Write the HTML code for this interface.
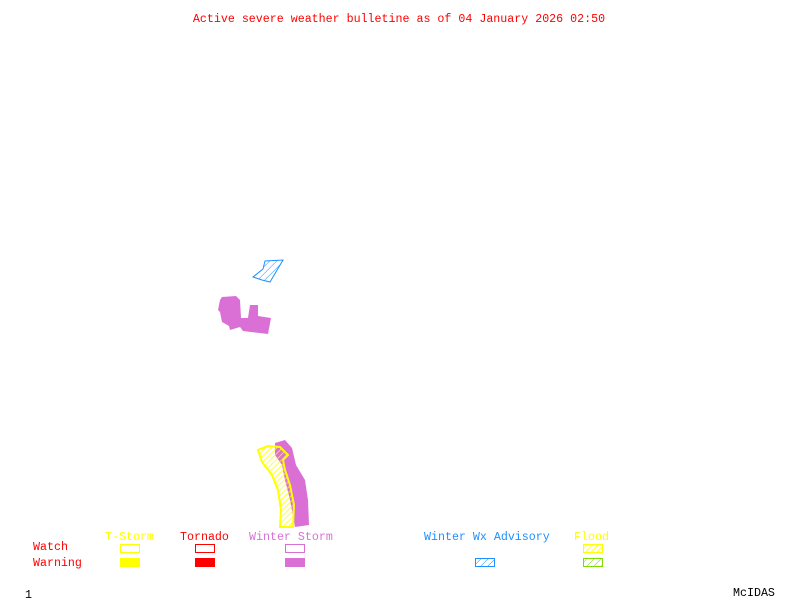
<!DOCTYPE html>
<html><head><style>
html,body{margin:0;padding:0;background:#fff;}
svg text{font-family:"Liberation Mono",monospace;font-size:11.65px;}
</style></head><body>
<svg width="800" height="600" xmlns="http://www.w3.org/2000/svg">
<defs>
<pattern id="hb" width="5" height="5" patternUnits="userSpaceOnUse" patternTransform="rotate(45)"><line x1="0" y1="0" x2="0" y2="5" stroke="#1e90ff" stroke-width="1"/></pattern>
<pattern id="hy" width="4" height="4" patternUnits="userSpaceOnUse" patternTransform="rotate(45)"><line x1="0" y1="0" x2="0" y2="4" stroke="#ffff00" stroke-width="1.5"/></pattern>
<pattern id="hg" width="5" height="5" patternUnits="userSpaceOnUse" patternTransform="rotate(45)"><line x1="0" y1="0" x2="0" y2="5" stroke="#7fdd00" stroke-width="1"/></pattern>
</defs>
<text x="399" y="22" fill="#ff0000" text-anchor="middle">Active severe weather bulletine as of 04 January 2026 02:50</text>
<polygon points="253,277 263,269 265,261 283,260 270,282 262,280" fill="url(#hb)" stroke="#1e90ff" stroke-width="1"/>
<polygon points="222,297 236,296 240,300 241,318 248,318 250,305 258,305 258,316 271,318 268,334 243,331 240,327 230,330 229,326 222,322 220,312 218,310 220,300" fill="#da70d6"/>
<polygon points="275,443 285,440 292,448 296,465 305,480 308,500 309,525 295,527 290,500 285,480 282,465 275,455" fill="#da70d6"/>
<polygon points="258,450 262,462 272,475 278,490 281,510 280,527 293,527 294,505 290,485 285,470 283,460 288,455 280,447 268,446" fill="url(#hy)" stroke="#ffff00" stroke-width="2"/>
<text x="105" y="540" fill="#ffff00">T-Storm</text>
<text x="180" y="540" fill="#ff0000">Tornado</text>
<text x="249" y="540" fill="#da70d6">Winter Storm</text>
<text x="424" y="540" fill="#1e90ff">Winter Wx Advisory</text>
<text x="574" y="540" fill="#ffff00">Flood</text>
<text x="33" y="550" fill="#ff0000">Watch</text>
<text x="33" y="566" fill="#ff0000">Warning</text>
<rect x="120.5" y="544.5" width="19" height="8" fill="none" stroke="#ffff00"/>
<rect x="195.5" y="544.5" width="19" height="8" fill="none" stroke="#ff0000"/>
<rect x="285.5" y="544.5" width="19" height="8" fill="none" stroke="#da70d6"/>
<rect x="583.5" y="544.5" width="19" height="8" fill="url(#hy)" stroke="#ffff00"/>
<rect x="120" y="558" width="20" height="9" fill="#ffff00"/>
<rect x="195" y="558" width="20" height="9" fill="#ff0000"/>
<rect x="285" y="558" width="20" height="9" fill="#da70d6"/>
<rect x="475.5" y="558.5" width="19" height="8" fill="url(#hb)" stroke="#1e90ff"/>
<rect x="583.5" y="558.5" width="19" height="8" fill="url(#hg)" stroke="#7fdd00"/>
<text x="25" y="598" fill="#000">1</text>
<text x="733" y="596" fill="#000">McIDAS</text>
</svg>
</body></html>
